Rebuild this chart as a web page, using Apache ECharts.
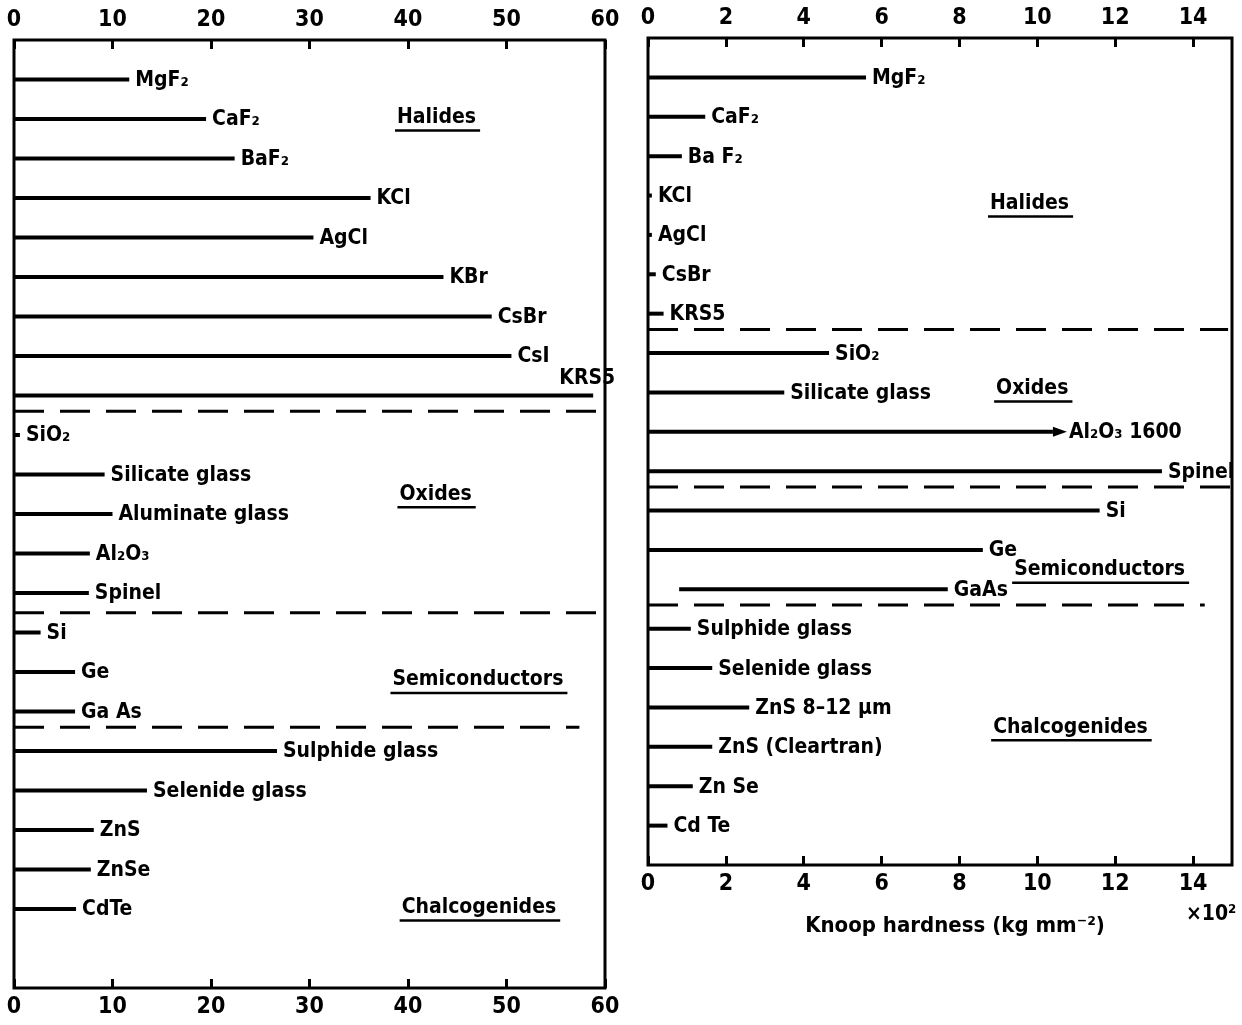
<!DOCTYPE html>
<html><head><meta charset="utf-8">
<script src="https://cdn.jsdelivr.net/npm/echarts@6/dist/echarts.min.js"></script>
<style>html,body{margin:0;padding:0;background:#fff}#c{width:1242px;height:1025px}</style>
</head><body><div id="c"></div>
<script>
// ---- data: left panel ----
const leftNames = ['MgF₂','CaF₂','BaF₂','KCl','AgCl','KBr','CsBr','CsI','KRS5','SiO₂','Silicate glass','Aluminate glass','Al₂O₃','Spinel','Si','Ge','Ga As','Sulphide glass','Selenide glass','ZnS','ZnSe','CdTe'];
const leftValues = [11.7,19.5,22.4,36.2,30.4,43.6,48.5,50.5,58.8,0.6,9.2,10.0,7.7,7.6,2.7,6.2,6.2,26.7,13.5,8.1,7.8,6.3];
const leftTicks = [0,10,20,30,40,50,60];
const leftGroups = ['Halides','Oxides','Semiconductors','Chalcogenides'];
// ---- data: right panel (Knoop hardness, x10^2 kg mm^-2) ----
const rightNames = ['MgF₂','CaF₂','Ba F₂','KCl','AgCl','CsBr','KRS5','SiO₂','Silicate glass','Al₂O₃ 1600','Spinel','Si','Ge','GaAs','Sulphide glass','Selenide glass','ZnS 8–12 µm','ZnS (Cleartran)','Zn Se','Cd Te'];
const rightStarts = [0,0,0,0,0,0,0,0,0,0,0,0,0,0.8,0,0,0,0,0,0];
const rightValues = [5.6,1.47,0.87,0.1,0.1,0.2,0.4,4.65,3.5,10.4,13.2,11.6,8.6,7.7,1.1,1.65,2.6,1.65,1.15,0.5];
const rightTicks = [0,2,4,6,8,10,12,14];
const rightGroups = ['Halides','Oxides','Semiconductors','Chalcogenides'];
const axisTitle = 'Knoop hardness (kg mm⁻²)';
const axisUnit = '×10²';

// ---- layout (data-unit positions of dividers / group labels) ----
const leftDividers = [[8.4, 60], [13.5, 60], [16.4, 57.4]];
const rightDividers = [[6.4, 14.9], [10.4, 15], [13.4, 14.3]];
const leftGroupAt = [[42.9, 0.96], [42.8, 10.5], [47.1, 15.2], [47.2, 20.96]];
const rightGroupAt = [[9.8, 3.2], [9.87, 7.9], [11.6, 12.5], [10.85, 16.5]];

const FAM = '"DejaVu Sans Condensed", "DejaVu Sans", sans-serif';
const FONT = 'bold 21px ' + FAM;
const mctx = document.createElement('canvas').getContext('2d');
mctx.font = FONT;

function barSeries(xi, yi, names, starts, values, opts) {
  return {
    type: 'custom', xAxisIndex: xi, yAxisIndex: yi, silent: true,
    encode: {x: [0, 1], y: 2},
    data: values.map((v, i) => [starts ? starts[i] : 0, v, i]),
    renderItem: (params, api) => {
      const s = api.value(0), e = api.value(1), i = api.value(2);
      const p0 = api.coord([s, i]), p1 = api.coord([e, i]);
      const name = names[params.dataIndex];
      const ch = [{type: 'line', shape: {x1: p0[0], y1: p0[1], x2: p1[0], y2: p1[1]},
        style: {stroke: '#000', lineWidth: 4}}];
      let tx = p1[0] + 6, ty = p1[1], al = 'left';
      if (opts.arrow && opts.arrow[name]) {
        ch.push({type: 'polygon', shape: {points: [[p1[0], p1[1] - 5], [p1[0] + 14, p1[1]], [p1[0], p1[1] + 5]]},
          style: {fill: '#000'}});
        tx = p1[0] + 16;
      }
      if (opts.above && opts.above[name]) { tx = p1[0] + 22; ty = p1[1] - 18; al = 'right'; }
      ch.push({type: 'text', x: tx, y: ty + 1,
        style: {text: name, font: FONT, fill: '#000', align: al, verticalAlign: 'middle'}});
      return {type: 'group', children: ch};
    }
  };
}
function dividerSeries(xi, yi, divs) {
  return {
    type: 'custom', xAxisIndex: xi, yAxisIndex: yi, silent: true,
    encode: {x: 1, y: 0},
    data: divs,
    renderItem: (params, api) => {
      const y = api.value(0), xe = api.value(1);
      const a = api.coord([0, y]), b = api.coord([xe, y]);
      return {type: 'line', shape: {x1: a[0], y1: a[1], x2: b[0], y2: b[1]},
        style: {stroke: '#000', lineWidth: 3, lineDash: [30, 16]}};
    }
  };
}
function groupSeries(xi, yi, names, pos) {
  return {
    type: 'custom', xAxisIndex: xi, yAxisIndex: yi, silent: true,
    encode: {x: 0, y: 1},
    data: pos.map((p, i) => [p[0], p[1], i]),
    renderItem: (params, api) => {
      const c = api.coord([api.value(0), api.value(1)]);
      const t = names[params.dataIndex];
      const w = mctx.measureText(t).width;
      return {type: 'group', children: [
        {type: 'text', x: c[0], y: c[1], style: {text: t, font: FONT, fill: '#000', align: 'center', verticalAlign: 'middle'}},
        {type: 'line', shape: {x1: c[0] - w / 2 - 2, y1: c[1] + 13, x2: c[0] + w / 2 + 4, y2: c[1] + 13},
          style: {stroke: '#000', lineWidth: 2.5}}
      ]};
    }
  };
}
function xAx(grid, pos, max, interval, extra) {
  return Object.assign({
    type: 'value', gridIndex: grid, position: pos, min: 0, max: max, interval: interval,
    axisLine: {show: false, onZero: false},
    axisTick: {show: true, inside: true, length: 9, lineStyle: {color: '#000', width: 3}},
    axisLabel: {color: '#000', fontSize: 23, fontWeight: 'bold', fontFamily: FAM, margin: 8,
      showMinLabel: true, showMaxLabel: max % interval === 0},
    splitLine: {show: false}
  }, extra || {});
}
function yAx(grid, max) {
  return {type: 'value', gridIndex: grid, min: -1, max: max, inverse: true, show: false, splitLine: {show: false}};
}

const chart = echarts.init(document.getElementById('c'));
chart.setOption({
  backgroundColor: '#fff',
  animation: false,
  grid: [
    {left: 14, right: 637, top: 40, bottom: 37, show: true, borderColor: '#000', borderWidth: 3, backgroundColor: 'transparent'},
    {left: 648, right: 10, top: 38, bottom: 160, show: true, borderColor: '#000', borderWidth: 3, backgroundColor: 'transparent'}
  ],
  xAxis: [
    xAx(0, 'top', leftTicks[leftTicks.length - 1], leftTicks[1] - leftTicks[0]),
    xAx(0, 'bottom', leftTicks[leftTicks.length - 1], leftTicks[1] - leftTicks[0]),
    xAx(1, 'top', 15, rightTicks[1] - rightTicks[0]),
    xAx(1, 'bottom', 15, rightTicks[1] - rightTicks[0], {
      name: axisTitle, nameLocation: 'middle', nameGap: 50,
      nameTextStyle: {color: '#000', fontSize: 22, fontWeight: 'bold', fontFamily: FAM, padding: [0, 0, 0, 30]}
    })
  ],
  yAxis: [yAx(0, 23), yAx(1, 20)],
  series: [
    barSeries(0, 0, leftNames, null, leftValues, {above: {'KRS5': true}}),
    dividerSeries(0, 0, leftDividers),
    groupSeries(0, 0, leftGroups, leftGroupAt),
    barSeries(2, 1, rightNames, rightStarts, rightValues, {arrow: {'Al₂O₃ 1600': true}}),
    dividerSeries(2, 1, rightDividers),
    groupSeries(2, 1, rightGroups, rightGroupAt)
  ],
  graphic: [
    {type: 'text', left: 1186, top: 904, style: {text: axisUnit, font: 'bold 21px ' + FAM, fill: '#000'}}
  ]
});
</script>
</body></html>
